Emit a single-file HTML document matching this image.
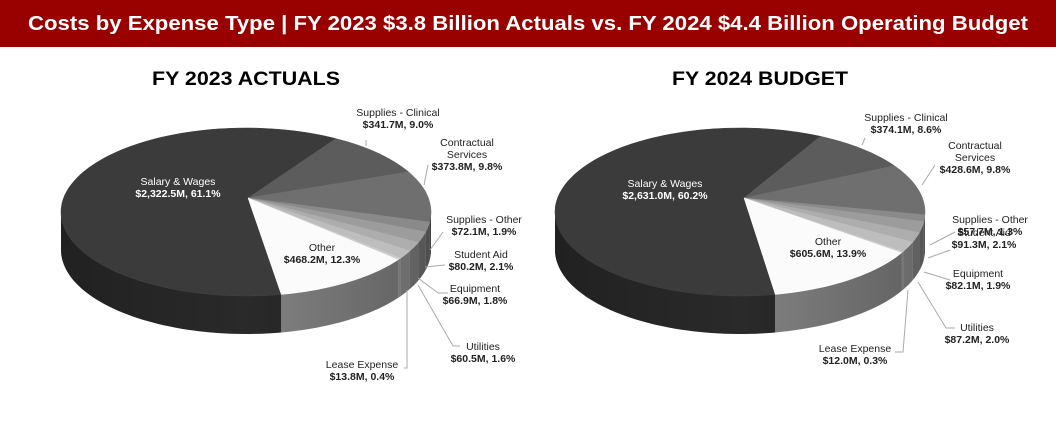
<!DOCTYPE html>
<html><head><meta charset="utf-8"><style>
body{margin:0;background:#fff;width:1056px;height:417px;overflow:hidden;font-family:"Liberation Sans",sans-serif}
</style></head><body>
<svg id="chart" width="1056" height="417" viewBox="0 0 1056 417" xmlns="http://www.w3.org/2000/svg" font-family="Liberation Sans, sans-serif">
<defs>
<linearGradient id="sideShade" x1="0" y1="0" x2="1" y2="0">
<stop offset="0" stop-color="#000" stop-opacity="0.25"/>
<stop offset="0.5" stop-color="#000" stop-opacity="0.05"/>
<stop offset="1" stop-color="#000" stop-opacity="0.3"/>
</linearGradient>
</defs>
<rect x="0" y="0" width="1056" height="47" fill="#990000"/>
<text x="528" y="30" text-anchor="middle" fill="#fff" font-weight="bold" font-size="20" textLength="1000" lengthAdjust="spacingAndGlyphs">Costs by Expense Type | FY 2023 $3.8 Billion Actuals vs. FY 2024 $4.4 Billion Operating Budget</text>
<text x="246" y="85" text-anchor="middle" font-weight="bold" font-size="19" textLength="188" lengthAdjust="spacingAndGlyphs">FY 2023 ACTUALS</text>
<text x="760" y="85" text-anchor="middle" font-weight="bold" font-size="19" textLength="176" lengthAdjust="spacingAndGlyphs">FY 2024 BUDGET</text>
<g id="pies"></g>
</svg>
<script>
const categories=["Salary & Wages","Supplies - Clinical","Contractual Services","Supplies - Other","Student Aid","Equipment","Utilities","Lease Expense","Other"];
const values2023=[2322.5,341.7,373.8,72.1,80.2,66.9,60.5,13.8,468.2];
const pct2023=[61.1,9.0,9.8,1.9,2.1,1.8,1.6,0.4,12.3];
const values2024=[2631.0,374.1,428.6,57.7,91.3,82.1,87.2,12.0,605.6];
const pct2024=[60.2,8.6,9.8,1.3,2.1,1.9,2.0,0.3,13.9];
const topColors=["#3b3b3b","#5c5c5c","#6f6f6f","#8a8a8a","#9c9c9c","#adadad","#bdbdbd","#cccccc","#fbfbfb"];
const sideColors=["#2c2c2c","#4a4a4a","#5a5a5a","#6e6e6e","#7a7a7a","#888","#959595","#a0a0a0","#8a8a8a"];
const NS="http://www.w3.org/2000/svg";
const root=document.getElementById('pies');
function pt(p,t){const r=t*Math.PI/180;return [p.cx+p.rx*Math.cos(r),p.cy+p.ry*Math.sin(r)];}
function arcPts(p,a,b,dy){const s=[];const n=Math.max(2,Math.ceil(Math.abs(b-a)/2));for(let i=0;i<=n;i++){const q=pt(p,a+(b-a)*i/n);s.push(q[0].toFixed(1)+","+(q[1]+dy).toFixed(1));}return s;}
function drawPie(p,vals,pcts,labels,key){
  const g=document.createElementNS(NS,'g');
  
  
  root.appendChild(g);
  const tot=vals.reduce((a,b)=>a+b,0);
  const angs=[];let a=p.start;
  vals.forEach(v=>{const b=a+v/tot*360;angs.push([a,b]);a=b;});
  // sides
  angs.forEach(([a0,a1],i)=>{
    [[0,180],[360,540]].forEach(([l,h])=>{
      const s=Math.max(a0,l),e=Math.min(a1,h);
      if(e<=s)return;
      const top=arcPts(p,s,e,0),bot=arcPts(p,e,s,p.depth);
      const path=document.createElementNS(NS,'polygon');
      path.setAttribute('points',top.concat(bot).join(' '));
      path.setAttribute('fill',sideColors[i]);
      
      
      g.appendChild(path);
    });
  });
  const sh=document.createElementNS(NS,'polygon');
  sh.setAttribute('points',arcPts(p,0,180,0).concat(arcPts(p,180,0,p.depth)).join(' '));
  sh.setAttribute('fill','url(#sideShade)');
  
  
  g.appendChild(sh);
  // tops
  angs.forEach(([a0,a1],i)=>{
    const pts=[p.ax.toFixed(1)+","+p.ay.toFixed(1)].concat(arcPts(p,a0,a1,0));
    const s=document.createElementNS(NS,'polygon');
    s.setAttribute('points',pts.join(' '));
    s.setAttribute('fill',topColors[i]);
    s.setAttribute('stroke',topColors[i]);
    s.setAttribute('stroke-width','0.5');
    
    
    g.appendChild(s);
  });
  // labels
  labels.forEach((L,i)=>{
    if(L.line){const pl=document.createElementNS(NS,'polyline');
      pl.setAttribute('points',L.line);pl.setAttribute('fill','none');pl.setAttribute('stroke','#aaa');pl.setAttribute('stroke-width','1');
      
      
      g.appendChild(pl);}
    const lines=L.name.concat(["$"+vals[i].toLocaleString('en-US',{minimumFractionDigits:1,maximumFractionDigits:1})+"M, "+pcts[i].toFixed(1)+"%"]);
    lines.forEach((tx,j)=>{
      const t=document.createElementNS(NS,'text');
      t.setAttribute('x',L.x);t.setAttribute('y',L.y+j*12);
      t.setAttribute('text-anchor','middle');t.setAttribute('font-size','10.5');
      t.setAttribute('fill',i===0?'#fff':'#222');
      if(j===lines.length-1)t.setAttribute('font-weight','bold');
      t.textContent=tx;
      
      
      g.appendChild(t);
    });
  });
}
const p1={cx:246,cy:212,rx:185,ry:84,ax:248,ay:198,depth:38,start:79};
const p2={cx:740,cy:212,rx:185,ry:84,ax:744,ay:198,depth:38,start:79};
drawPie(p1,values2023,pct2023,[
 {name:["Salary & Wages"],x:178,y:185},
 {name:["Supplies - Clinical"],x:398,y:116,line:"366,140 366,146"},
 {name:["Contractual","Services"],x:467,y:146,line:"428,165 424,185"},
 {name:["Supplies - Other"],x:484,y:223,line:"443,232 430,250"},
 {name:["Student Aid"],x:481,y:258,line:"445,265 425,267"},
 {name:["Equipment"],x:475,y:292,line:"448,293 438,293 418,278"},
 {name:["Utilities"],x:483,y:350,line:"460,346 453,346 418,285"},
 {name:["Lease Expense"],x:362,y:368,line:"404,368 407,368 407,290"},
 {name:["Other"],x:322,y:251}
],'fy2023');
drawPie(p2,values2024,pct2024,[
 {name:["Salary & Wages"],x:665,y:187},
 {name:["Supplies - Clinical"],x:906,y:121,line:"865,138 862,145"},
 {name:["Contractual","Services"],x:975,y:149,line:"935,165 922,185"},
 {name:["Supplies - Other"],x:990,y:223,line:"955,232 930,245"},
 {name:["Student Aid"],x:984,y:236,line:"950,250 928,258"},
 {name:["Equipment"],x:978,y:277,line:"950,280 924,272"},
 {name:["Utilities"],x:977,y:331,line:"955,328 946,328 918,282"},
 {name:["Lease Expense"],x:855,y:352,line:"895,352 903,352 908,290"},
 {name:["Other"],x:828,y:245}
],'fy2024');
</script>
</body></html>
